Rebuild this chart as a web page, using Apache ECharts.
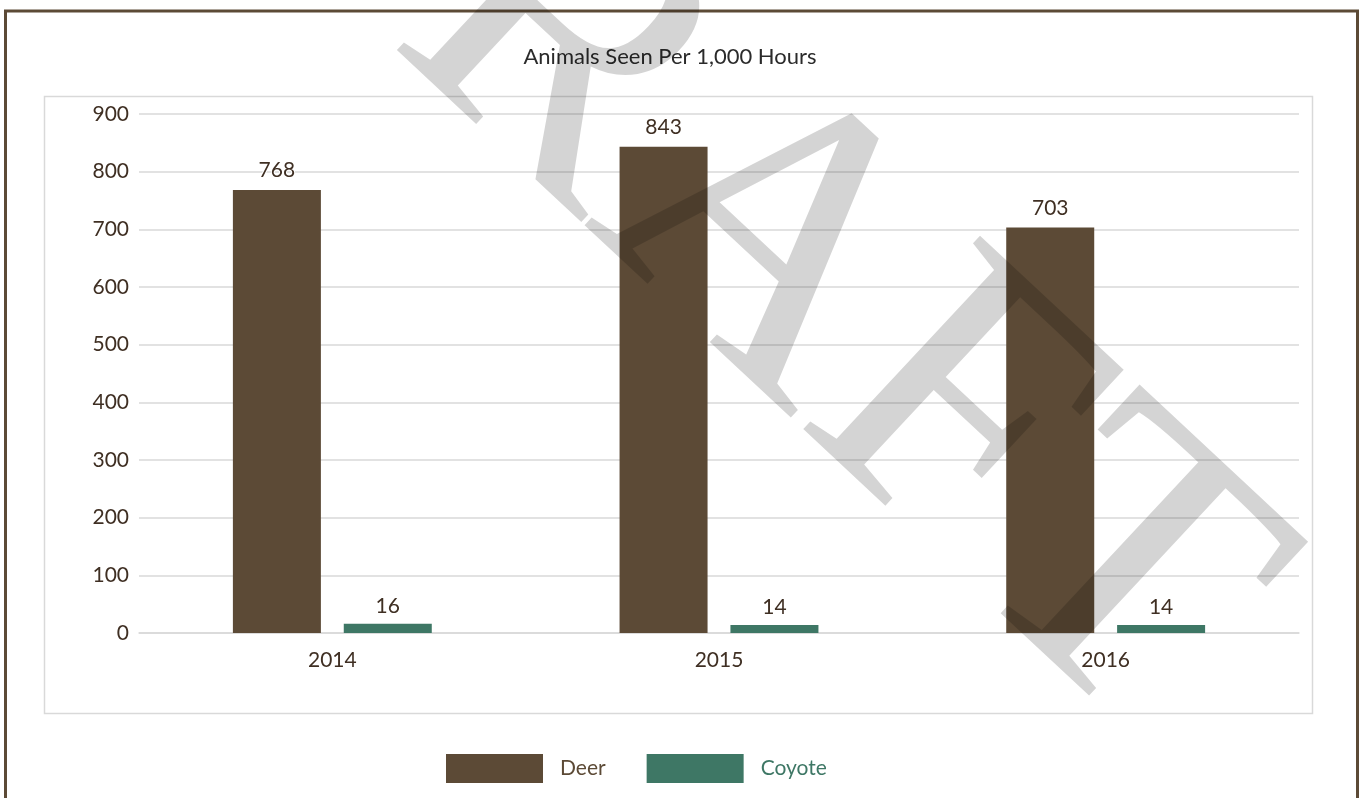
<!DOCTYPE html>
<html>
<head>
<meta charset="utf-8">
<script src="https://cdn.jsdelivr.net/npm/echarts@6/dist/echarts.min.js"></script>
<style>
html,body{margin:0;padding:0;background:#fff;}
#main{width:1362px;height:798px;}
</style>
</head>
<body>
<div id="main"></div>
<script>
const titleText = 'Animals Seen Per 1,000 Hours';
const categories = ['2014', '2015', '2016'];
const deerValues = [768, 843, 703];
const coyoteValues = [16, 14, 14];
const yTicks = [0, 100, 200, 300, 400, 500, 600, 700, 800, 900];
const watermarkText = 'DRAFT';

const deerColor = '#5c4a36';
const coyoteColor = '#3e7765';
const labelColor = '#3f2f23';
const fontFam = 'Lato, "Open Sans", sans-serif';

const chart = echarts.init(document.getElementById('main'), null, {renderer: 'canvas'});
chart.setOption({
  backgroundColor: '#fff',
  animation: false,
  title: {
    text: titleText,
    left: 665,
    top: 41,
    textAlign: 'center',
    textStyle: {fontFamily: fontFam, fontSize: 22, fontWeight: 'normal', color: '#2b2b2b'}
  },
  grid: {left: 139, right: 63, top: 114, bottom: 165, containLabel: false},
  legend: {
    left: 441,
    top: 749,
    itemWidth: 97,
    itemHeight: 29,
    itemGap: 41,
    icon: 'rect',
    textStyle: {fontFamily: fontFam, fontSize: 21, padding: [0, 0, 0, 12]},
    data: [
      {name: 'Deer', textStyle: {color: deerColor}},
      {name: 'Coyote', textStyle: {color: coyoteColor}}
    ]
  },
  xAxis: {
    type: 'category',
    data: categories,
    axisTick: {show: false},
    axisLine: {lineStyle: {color: '#d9d9d9', width: 1.5}},
    axisLabel: {fontFamily: fontFam, fontSize: 21, color: labelColor, margin: 17}
  },
  yAxis: {
    type: 'value',
    min: yTicks[0],
    max: yTicks[yTicks.length - 1],
    interval: yTicks[1] - yTicks[0],
    axisLine: {show: false},
    axisTick: {show: false},
    splitLine: {lineStyle: {color: '#d9d9d9', width: 1.5}},
    axisLabel: {fontFamily: fontFam, fontSize: 21, color: labelColor, margin: 10}
  },
  series: [
    {
      name: 'Deer', type: 'bar', data: deerValues,
      barWidth: 88, barGap: '26%',
      itemStyle: {color: deerColor},
      label: {show: true, position: 'top', distance: 9, fontFamily: fontFam, fontSize: 21, color: labelColor,
              textBorderColor: '#fff', textBorderWidth: 2}
    },
    {
      name: 'Coyote', type: 'bar', data: coyoteValues,
      barWidth: 88, barGap: '26%',
      itemStyle: {color: coyoteColor},
      label: {show: true, position: 'top', distance: 7, fontFamily: fontFam, fontSize: 21, color: labelColor,
              textBorderColor: '#fff', textBorderWidth: 2}
    }
  ],
  graphic: [
    {
      type: 'rect', z: -1, silent: true,
      shape: {x: 44.5, y: 96.5, width: 1268, height: 617},
      style: {fill: 'none', stroke: '#d9d9d9', lineWidth: 1.5}
    },
    {
      type: 'rect', z: 50, silent: true,
      shape: {x: 5.5, y: 11, width: 1352, height: 820},
      style: {fill: 'none', stroke: '#5c4a36', lineWidth: 3}
    },
    {
      type: 'text', z: 100, silent: true,
      x: 1206, y: 661,
      rotation: -43 * Math.PI / 180,
      style: {
        text: watermarkText,
        fontFamily: '"Liberation Serif", "DejaVu Serif", serif',
        fontSize: 400,
        fill: 'rgba(0,0,0,0.17)',
        align: 'right',
        verticalAlign: 'middle'
      }
    }
  ]
});
</script>
</body>
</html>
